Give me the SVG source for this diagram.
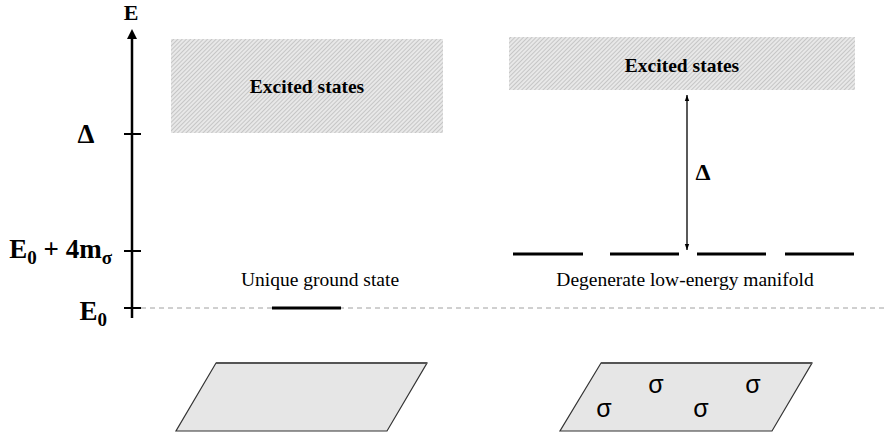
<svg xmlns="http://www.w3.org/2000/svg" width="884" height="438" viewBox="0 0 884 438">
<style>
.lbl{font-family:"Liberation Serif","Times New Roman",serif;font-weight:bold;fill:#000}
.cap{font-family:"Liberation Serif","Times New Roman",serif;font-size:19.5px;fill:#000}
.exc{font-family:"Liberation Serif","Times New Roman",serif;font-weight:bold;font-size:19.5px;fill:#000}
.sig{font-family:"Liberation Sans",Arial,sans-serif;font-size:25px;fill:#000}
.box{fill:url(#hatch)}
.lvl{stroke:#000;stroke-width:3}
.tick{stroke:#000;stroke-width:2}
.plane{fill:#e6e6e6;stroke:#333;stroke-width:1.2}
</style>
<defs>
<pattern id="hatch" width="3" height="3" patternUnits="userSpaceOnUse" patternTransform="rotate(45)">
<rect width="3" height="3" fill="#e8e8e8"/>
<line x1="0.5" y1="0" x2="0.5" y2="3" stroke="#c6c6c6" stroke-width="1"/>
</pattern>
<marker id="ahs" markerWidth="6" markerHeight="6" refX="6" refY="3" orient="auto-start-reverse" markerUnits="userSpaceOnUse">
<path d="M0,0.8 L6,3 L0,5.2 Z" fill="#000"/>
</marker>
</defs>
<rect width="884" height="438" fill="#fff"/>

<g id="baseline">
<line x1="141" y1="308" x2="884" y2="308" stroke="#a0a0a0" stroke-width="1" stroke-dasharray="5 4"/>
</g>

<g id="axis">
<line x1="132" y1="318" x2="132" y2="38" stroke="#000" stroke-width="2.5"/>
<path d="M132,29 L137,39 L127,39 Z" fill="#000"/>
<line class="tick" x1="124" y1="134" x2="141" y2="134"/>
<line class="tick" x1="124" y1="251" x2="141" y2="251"/>
<line class="tick" x1="124" y1="308" x2="141" y2="308"/>
<text class="lbl" x="131" y="20" font-size="22" text-anchor="middle">E</text>
<text class="lbl" x="86" y="143" font-size="27" text-anchor="middle">Δ</text>
<text class="lbl" x="112" y="258" font-size="27" text-anchor="end">E<tspan font-size="19" dy="6">0</tspan><tspan dy="-6"> + 4m</tspan><tspan font-size="19" dy="6">σ</tspan></text>
<text class="lbl" x="107" y="320" font-size="27" text-anchor="end">E<tspan font-size="19" dy="6">0</tspan></text>
</g>

<g id="excited-left">
<rect class="box" x="171" y="39" width="272" height="94"/>
<text class="exc" x="307" y="93" text-anchor="middle">Excited states</text>
</g>

<g id="excited-right">
<rect class="box" x="509" y="37" width="346" height="53"/>
<text class="exc" x="682" y="72" text-anchor="middle">Excited states</text>
</g>

<g id="ground-unique">
<line class="lvl" x1="272" y1="308" x2="341" y2="308"/>
<text class="cap" x="320" y="286" text-anchor="middle">Unique ground state</text>
</g>

<g id="manifold">
<line class="lvl" x1="513" y1="254" x2="583" y2="254"/>
<line class="lvl" x1="610" y1="254" x2="679" y2="254"/>
<line class="lvl" x1="697" y1="254" x2="766" y2="254"/>
<line class="lvl" x1="785" y1="254" x2="854" y2="254"/>
<text class="cap" x="685" y="286" text-anchor="middle">Degenerate low-energy manifold</text>
</g>

<g id="connectors">
<line x1="687" y1="95" x2="687" y2="250" stroke="#000" stroke-width="1.3" marker-start="url(#ahs)" marker-end="url(#ahs)"/>
<text class="lbl" x="703" y="180" font-size="24" text-anchor="middle">Δ</text>
</g>

<g id="plane-left">
<polygon class="plane" points="216,363 427,363 387,431 176,431"/>
<line x1="216" y1="363" x2="427" y2="363" stroke="#555" stroke-width="2"/>
</g>

<g id="plane-right">
<polygon class="plane" points="601,363 812,363 772,431 560,431"/>
<line x1="601" y1="363" x2="812" y2="363" stroke="#555" stroke-width="2"/>
<text class="sig" x="656" y="393" text-anchor="middle">σ</text>
<text class="sig" x="753" y="393" text-anchor="middle">σ</text>
<text class="sig" x="604" y="417" text-anchor="middle">σ</text>
<text class="sig" x="701" y="417" text-anchor="middle">σ</text>
</g>
</svg>
